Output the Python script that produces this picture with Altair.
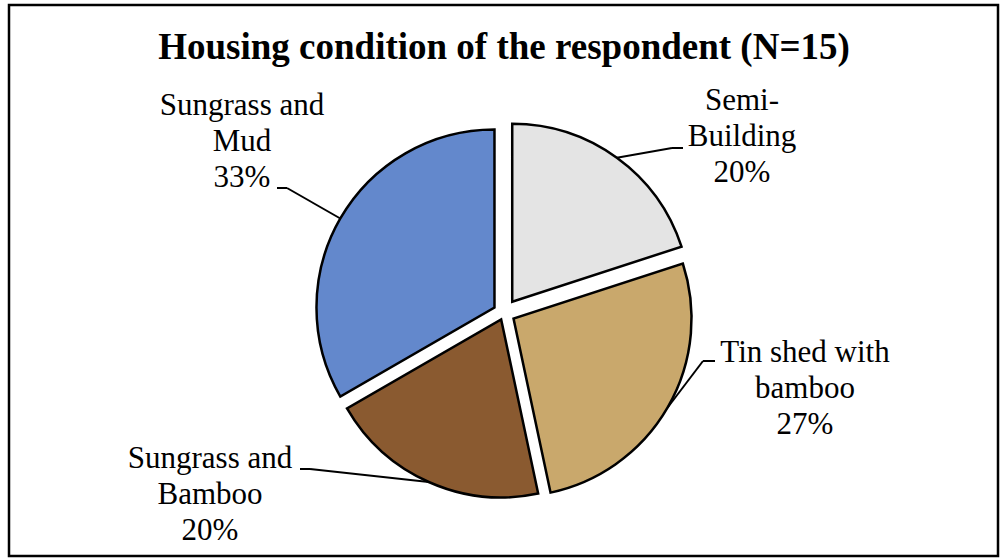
import altair as alt
import pandas as pd

# ---- data ----
categories = ["Semi-Building", "Tin shed with bamboo", "Sungrass and Bamboo", "Sungrass and Mud"]
counts = [3, 4, 3, 5]
label_lines = ["Semi-\nBuilding", "Tin shed with\nbamboo", "Sungrass and\nBamboo", "Sungrass and\nMud"]
title_text = "Housing condition of the respondent (N=15)"

# ---- style / layout ----
FONT = "Liberation Serif, Times New Roman, DejaVu Serif, serif"
colors = ["#e4e4e4", "#c9a86c", "#8a5a30", "#6388cc"]
CX, CY, R = 504, 313, 178
explode = [14, 11, 7, 11]
label_x = [742, 805, 210, 242]
label_y = [110, 362, 468, 115]
elbow_x = [672, 703, 310, 287]
elbow_y = [148, 361, 469, 188]
end_x = [683, 715, 300, 277]

df = pd.DataFrame({
    "category": categories,
    "count": counts,
    "order": list(range(len(categories))),
    "lines": label_lines,
    "explode": explode,
    "lx": label_x, "ly": label_y,
    "elx": elbow_x, "ely": elbow_y, "endx": end_x,
})

xs = alt.Scale(domain=[0, 1000], range=[0, 1000])
ys = alt.Scale(domain=[0, 559], range=[0, 559])

base = (
    alt.Chart(df)
    .transform_joinaggregate(total="sum(count)")
    .transform_window(cum="sum(count)", sort=[alt.SortField("order", order="ascending")], frame=[None, 0])
    .transform_calculate(a1="2*PI*datum.cum/datum.total")
    .transform_calculate(a0="2*PI*(datum.cum-datum.count)/datum.total")
    .transform_calculate(mid="(datum.a0+datum.a1)/2")
    .transform_calculate(cx=f"{CX} + datum.explode*sin(datum.mid)")
    .transform_calculate(cy=f"{CY} - datum.explode*cos(datum.mid)")
    .transform_calculate(ax=f"datum.cx + {R}*sin(datum.mid)")
    .transform_calculate(ay=f"datum.cy - {R}*cos(datum.mid)")
    .transform_calculate(label="datum.lines + '\\n' + round(100*datum.count/datum.total) + '%'")
)

arcs = base.mark_arc(outerRadius=R, stroke="black", strokeWidth=2.5).encode(
    theta=alt.Theta("a0:Q", scale=None, stack=None),
    theta2="a1:Q",
    x=alt.X("cx:Q", scale=xs, axis=None),
    y=alt.Y("cy:Q", scale=ys, axis=None),
    fill=alt.Fill("category:N", scale=alt.Scale(domain=categories, range=colors), legend=None),
)

seg1 = base.mark_rule(color="black", strokeWidth=2).encode(
    x=alt.X("ax:Q", scale=xs, axis=None),
    y=alt.Y("ay:Q", scale=ys, axis=None),
    x2="elx:Q",
    y2="ely:Q",
)

seg2 = base.mark_rule(color="black", strokeWidth=2).encode(
    x=alt.X("elx:Q", scale=xs, axis=None),
    y=alt.Y("ely:Q", scale=ys, axis=None),
    x2="endx:Q",
    y2="ely:Q",
)

labels = base.mark_text(
    font=FONT, fontSize=31, align="center", baseline="alphabetic",
    lineBreak="\n", lineHeight=36, color="black",
).encode(
    x=alt.X("lx:Q", scale=xs, axis=None),
    y=alt.Y("ly:Q", scale=ys, axis=None),
    text="label:N",
)

title = alt.Chart(alt.Data(values=[{"t": title_text}])).mark_text(
    font=FONT, fontSize=37, fontWeight="bold", align="center",
    baseline="alphabetic", color="black",
).encode(x=alt.value(504), y=alt.value(59), text="t:N")

border = alt.Chart(alt.Data(values=[{"a": 1}])).mark_rect(
    fill="white", stroke="black", strokeWidth=2.5,
).encode(x=alt.value(9), x2=alt.value(998), y=alt.value(5), y2=alt.value(556))

chart = alt.layer(border, arcs, seg1, seg2, labels, title).properties(
    width=1000, height=559, autosize="none", padding=0, background="white",
).configure_view(stroke=None)

chart.save("out.html", embed_options={"renderer": "svg", "actions": False})
